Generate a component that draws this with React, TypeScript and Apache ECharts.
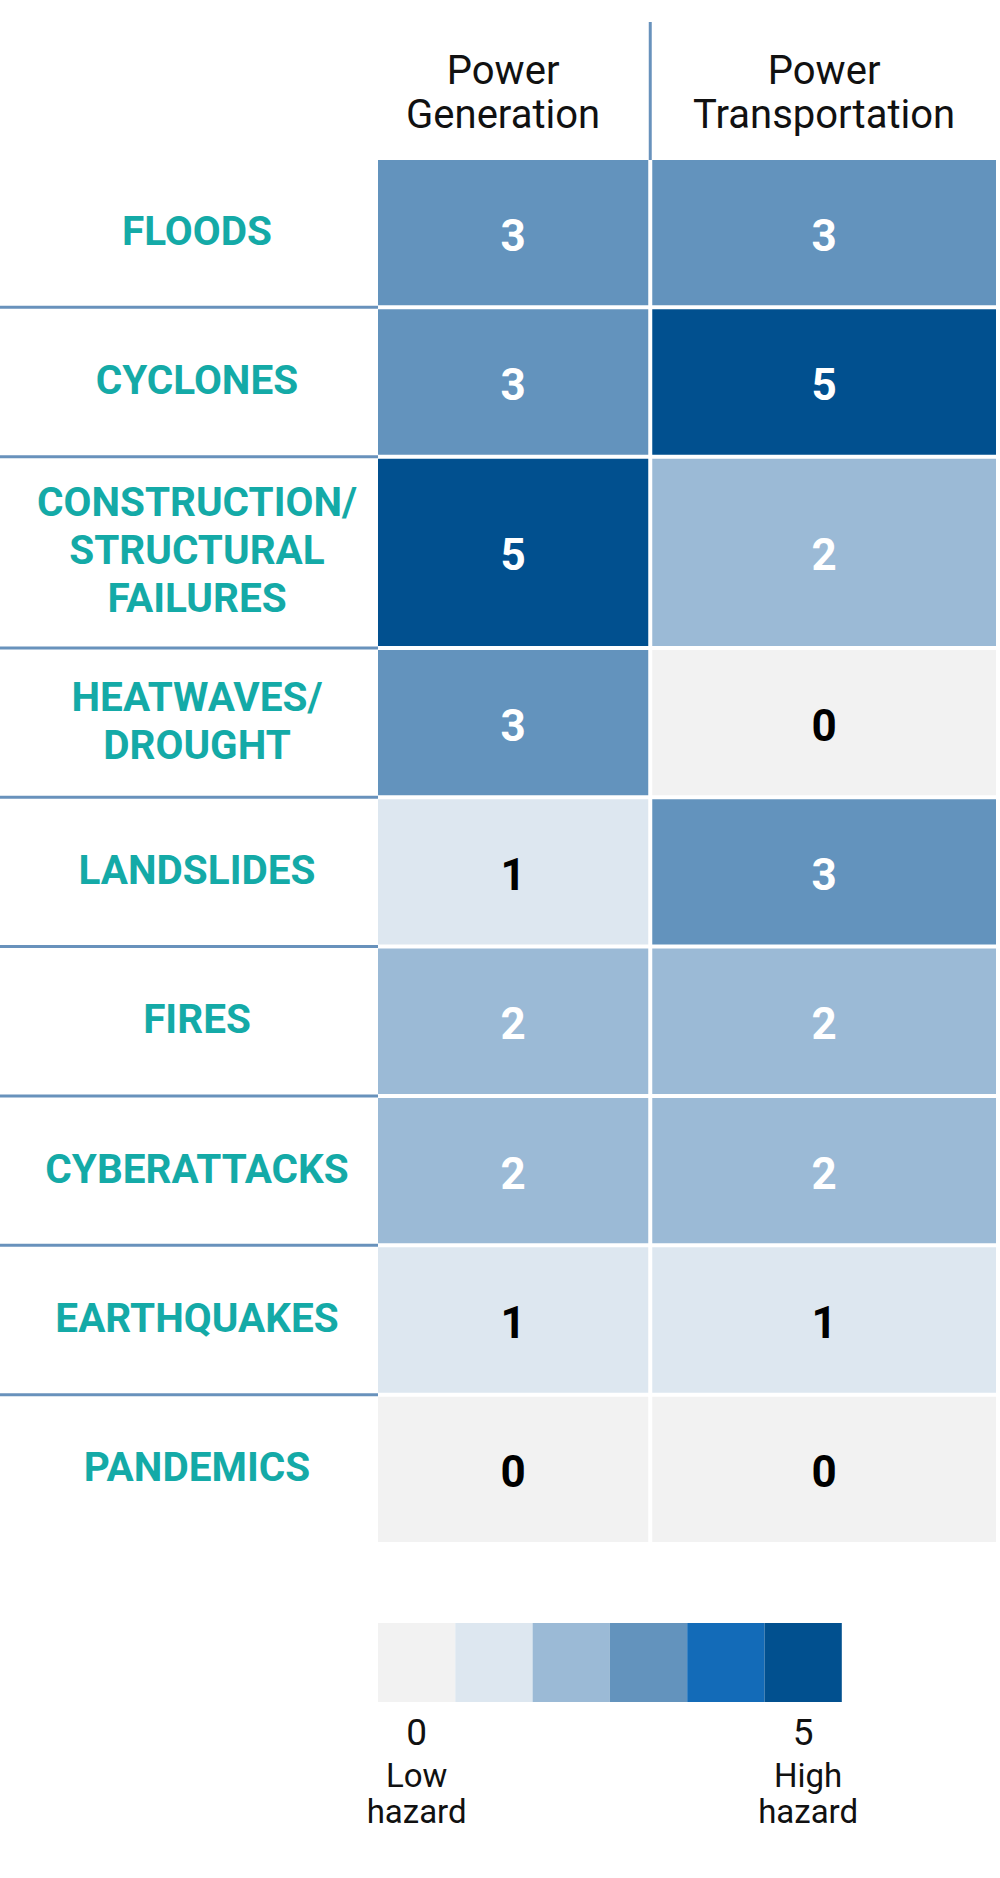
import React, { useEffect, useRef } from "react";
import * as echarts from "echarts";

// ---- data ----
const hazards = [
  "FLOODS",
  "CYCLONES",
  "CONSTRUCTION/\nSTRUCTURAL\nFAILURES",
  "HEATWAVES/\nDROUGHT",
  "LANDSLIDES",
  "FIRES",
  "CYBERATTACKS",
  "EARTHQUAKES",
  "PANDEMICS",
];
const sectors = ["Power\nGeneration", "Power\nTransportation"];
const powerGeneration = [3, 3, 5, 3, 1, 2, 2, 1, 0];
const powerTransportation = [3, 5, 2, 0, 3, 2, 2, 1, 0];
const scaleLevels = [0, 1, 2, 3, 4, 5];
const scaleColors = ["#f2f2f2", "#dde7f0", "#9bbad6", "#6393bd", "#136bb8", "#01508f"];
const scaleEndLabels = ["Low\nhazard", "High\nhazard"];

// ---- layout ----
const ROW_WEIGHTS = [1, 1, 1.28, 1, 1, 1, 1, 1, 1];
const COL_WEIGHTS = [1, 1.268];
const HEADER_SHIFT = [-10, 0];
const GRID_LEFT = 378;
const GRID_TOP = 160;
const GRID_W = 626;
const GRID_H = 1386;
const GAP = 4;
const LABEL_X = 197;
const LINE_COLOR = "#6892bc";
const TEAL = "#14aaa7";
const FONT = "Roboto, 'Noto Sans', Arial, sans-serif";
const LEG_LEFT = 378;
const LEG_TOP = 1623;
const LEG_ITEM_W = 77.3;
const LEG_ITEM_H = 79;

const rowStart: number[] = [];
ROW_WEIGHTS.reduce((acc, w, i) => {
  rowStart[i] = acc;
  return acc + w;
}, 0);
const colStart: number[] = [];
COL_WEIGHTS.reduce((acc, w, i) => {
  colStart[i] = acc;
  return acc + w;
}, 0);
const Y_MAX = ROW_WEIGHTS.reduce((a, b) => a + b, 0);
const X_MAX = COL_WEIGHTS.reduce((a, b) => a + b, 0);

const cellData: number[][] = [];
[powerGeneration, powerTransportation].forEach((vals, c) => {
  vals.forEach((v, r) => cellData.push([c, r, v]));
});

export default function App() {
  const ref = useRef<HTMLDivElement>(null);
  useEffect(() => {
    if (!ref.current) return;
    const chart = echarts.init(ref.current, undefined, { renderer: "svg" });
    const option: any = {
      animation: false,
      backgroundColor: "#ffffff",
      grid: { left: GRID_LEFT, top: GRID_TOP, width: GRID_W, height: GRID_H },
      xAxis: { type: "value", min: 0, max: X_MAX, show: false },
      yAxis: { type: "value", min: 0, max: Y_MAX, inverse: true, show: false },
      visualMap: {
        type: "piecewise",
        dimension: 2,
        seriesIndex: 0,
        orient: "horizontal",
        left: LEG_LEFT,
        top: LEG_TOP,
        itemWidth: LEG_ITEM_W,
        itemHeight: LEG_ITEM_H,
        itemGap: 0,
        padding: 0,
        showLabel: false,
        selectedMode: false,
        itemSymbol: "rect",
        pieces: scaleLevels.map((v, i) => ({ value: v, color: scaleColors[i] })),
      },
      graphic: [
        {
          type: "text",
          style: {
            text: String(scaleLevels[0]),
            x: LEG_LEFT + LEG_ITEM_W / 2,
            y: 1732,
            align: "center",
            verticalAlign: "middle",
            fontSize: 37,
            fontFamily: FONT,
            fill: "#111",
          },
        },
        {
          type: "text",
          style: {
            text: String(scaleLevels[scaleLevels.length - 1]),
            x: LEG_LEFT + LEG_ITEM_W * (scaleLevels.length - 0.5),
            y: 1732,
            align: "center",
            verticalAlign: "middle",
            fontSize: 37,
            fontFamily: FONT,
            fill: "#111",
          },
        },
        {
          type: "text",
          style: {
            text: scaleEndLabels[0],
            x: LEG_LEFT + LEG_ITEM_W / 2,
            y: 1793,
            align: "center",
            verticalAlign: "middle",
            fontSize: 33,
            lineHeight: 36,
            fontFamily: FONT,
            fill: "#111",
          },
        },
        {
          type: "text",
          style: {
            text: scaleEndLabels[1],
            x: LEG_LEFT + LEG_ITEM_W * (scaleLevels.length - 0.5) + 5,
            y: 1793,
            align: "center",
            verticalAlign: "middle",
            fontSize: 33,
            lineHeight: 36,
            fontFamily: FONT,
            fill: "#111",
          },
        },
      ],
      series: [
        {
          type: "custom",
          name: "cells",
          data: cellData,
          encode: { x: 0, y: 1 },
          renderItem: (params: any, api: any) => {
            const c = api.value(0);
            const r = api.value(1);
            const v = api.value(2);
            const p0 = api.coord([colStart[c], rowStart[r]]);
            const p1 = api.coord([colStart[c] + COL_WEIGHTS[c], rowStart[r] + ROW_WEIGHTS[r]]);
            const w = p1[0] - p0[0] - GAP;
            const h = p1[1] - p0[1] - GAP;
            return {
              type: "group",
              children: [
                {
                  type: "rect",
                  shape: { x: p0[0], y: p0[1], width: w, height: h },
                  style: { fill: api.visual("color") },
                },
                {
                  type: "text",
                  style: {
                    text: String(v),
                    x: p0[0] + w / 2,
                    y: p0[1] + h / 2 + 3,
                    align: "center",
                    verticalAlign: "middle",
                    fontSize: 44,
                    fontWeight: "bold",
                    fontFamily: FONT,
                    fill: v >= 2 ? "#ffffff" : "#000000",
                  },
                },
              ],
            };
          },
        },
        {
          type: "custom",
          name: "rowLabels",
          data: hazards.map((_, r) => [0, r]),
          encode: { x: 0, y: 1 },
          renderItem: (params: any, api: any) => {
            const r = api.value(1);
            const p0 = api.coord([0, rowStart[r]]);
            const p1 = api.coord([0, rowStart[r] + ROW_WEIGHTS[r]]);
            const children: any[] = [
              {
                type: "text",
                style: {
                  text: hazards[r],
                  x: LABEL_X,
                  y: (p0[1] + p1[1] - GAP) / 2 - 2,
                  align: "center",
                  verticalAlign: "middle",
                  fontSize: 40.5,
                  lineHeight: 48,
                  fontWeight: "bold",
                  fontFamily: FONT,
                  fill: TEAL,
                },
              },
            ];
            if (r < hazards.length - 1) {
              children.push({
                type: "rect",
                shape: { x: 0, y: p1[1] - GAP + 0.5, width: GRID_LEFT, height: 3 },
                style: { fill: LINE_COLOR },
              });
            }
            return { type: "group", children };
          },
        },
        {
          type: "custom",
          name: "colHeaders",
          data: sectors.map((_, c) => [c, 0]),
          encode: { x: 0, y: 1 },
          renderItem: (params: any, api: any) => {
            const c = api.value(0);
            const p0 = api.coord([colStart[c], 0]);
            const p1 = api.coord([colStart[c] + COL_WEIGHTS[c], 0]);
            const children: any[] = [
              {
                type: "text",
                style: {
                  text: sectors[c],
                  x: (p0[0] + p1[0] - GAP) / 2 + HEADER_SHIFT[c],
                  y: 92,
                  align: "center",
                  verticalAlign: "middle",
                  fontSize: 40,
                  lineHeight: 44,
                  fontFamily: FONT,
                  fill: "#111111",
                },
              },
            ];
            if (c > 0) {
              children.push({
                type: "rect",
                shape: { x: p0[0] - GAP / 2 - 1.5, y: 22, width: 3, height: p0[1] - 22 },
                style: { fill: LINE_COLOR },
              });
            }
            return { type: "group", children };
          },
        },
      ],
    };
    chart.setOption(option);
    return () => chart.dispose();
  }, []);
  return (
    <div
      ref={ref}
      style={{ position: "absolute", left: 0, top: 0, width: 1000, height: 1878, background: "#fff" }}
    />
  );
}
